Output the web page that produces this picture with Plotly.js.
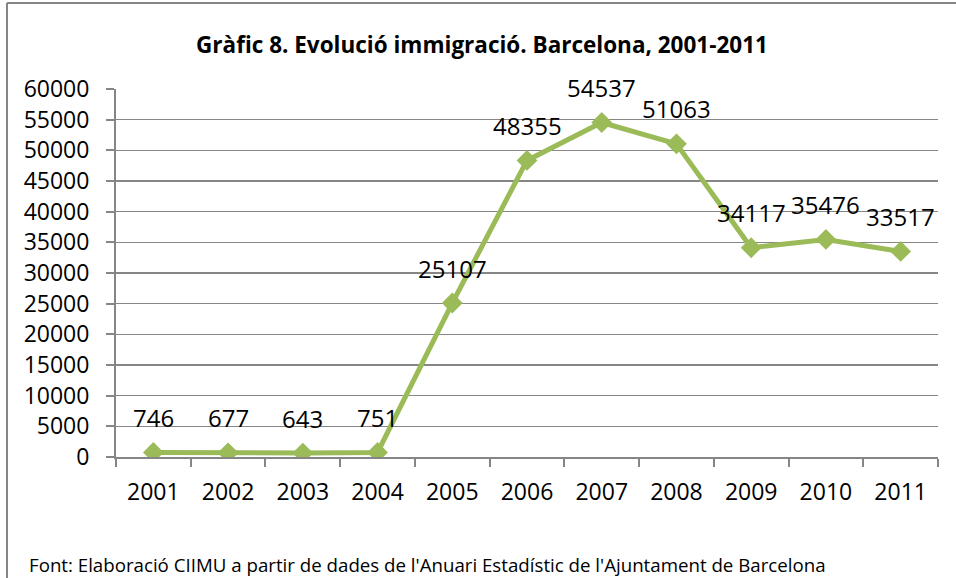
<!DOCTYPE html>
<html>
<head>
<meta charset="utf-8">
<script src="https://cdn.plot.ly/plotly-3.0.1.min.js"></script>
<style>
  html, body { margin: 0; padding: 0; background: #fff; }
  #chart { width: 956px; height: 578px; }
</style>
</head>
<body>
<div id="chart"></div>
<script>
const years = ['2001','2002','2003','2004','2005','2006','2007','2008','2009','2010','2011'];
const immigrants = [746, 677, 643, 751, 25107, 48355, 54537, 51063, 34117, 35476, 33517];
const yTicks = [0,5000,10000,15000,20000,25000,30000,35000,40000,45000,50000,55000,60000];
const chartTitle = 'Gràfic 8. Evolució immigració. Barcelona, 2001-2011';
const sourceNote = "Font: Elaboració CIIMU a partir de dades de l'Anuari Estadístic de l'Ajuntament de Barcelona";

const FONT = '"Open Sans", "Liberation Sans", Arial, sans-serif';
const GREEN = '#9BBB59';
const GRAY = '#868686';

const trace = {
  x: years,
  y: immigrants,
  type: 'scatter',
  mode: 'lines+markers',
  line: { color: GREEN, width: 5 },
  marker: { symbol: 'diamond', size: 16, color: GREEN },
  hoverinfo: 'x+y'
};

const labelAnnotations = years.map((yr, i) => ({
  x: i, y: immigrants[i], xref: 'x', yref: 'y',
  text: String(immigrants[i]), showarrow: false,
  yanchor: 'middle', xanchor: 'center', yshift: 35,
  font: { family: FONT, size: 24, color: '#000' }
}));

const W = 956, H = 578;
const L = 116, R = 938, T = 89, B = 457;
const px = v => (v - L) / (R - L);
const py = v => (B - v) / (B - T);

labelAnnotations.push({
  xref: 'paper', yref: 'paper', x: px(27), y: py(564),
  xanchor: 'left', yanchor: 'middle', showarrow: false,
  text: sourceNote, font: { family: FONT, size: 18.7, color: '#000' }
});

const layout = {
  width: W, height: H,
  margin: { l: L, r: W - R, t: T, b: H - B, pad: 0 },
  paper_bgcolor: '#fff', plot_bgcolor: '#fff',
  showlegend: false,
  font: { family: FONT, color: '#000' },
  title: {
    text: '<b>' + chartTitle + '</b>',
    x: 482 / W, xanchor: 'center',
    y: 1 - 45 / H, yanchor: 'middle',
    font: { family: FONT, size: 22.5, color: '#000' }
  },
  xaxis: {
    type: 'category',
    range: [-0.5, 10.5],
    showgrid: false,
    showline: true, linecolor: GRAY, linewidth: 2,
    ticks: 'outside', tickson: 'boundaries', ticklen: 8, tickcolor: GRAY, tickwidth: 2,
    tickfont: { family: FONT, size: 23, color: '#000' },
    ticklabelstandoff: 13,
    zeroline: false, fixedrange: true
  },
  yaxis: {
    range: [0, 60000],
    tickvals: yTicks,
    ticktext: yTicks.map(String),
    showgrid: true, gridcolor: GRAY, gridwidth: 1.5,
    showline: true, linecolor: GRAY, linewidth: 2,
    ticks: 'outside', ticklen: 8, tickcolor: GRAY, tickwidth: 2,
    tickfont: { family: FONT, size: 23, color: '#000' },
    ticklabelstandoff: 12,
    zeroline: false, fixedrange: true
  },
  annotations: labelAnnotations,
  shapes: [
    { type: 'line', xref: 'paper', yref: 'paper', x0: px(7), x1: px(7), y0: py(H + 5), y1: py(3),
      line: { color: GRAY, width: 2 } },
    { type: 'line', xref: 'paper', yref: 'paper', x0: px(7), x1: px(W + 5), y0: py(3), y1: py(3),
      line: { color: GRAY, width: 2 } }
  ]
};

Plotly.newPlot('chart', [trace], layout, { displayModeBar: false, staticPlot: true });
</script>
</body>
</html>
